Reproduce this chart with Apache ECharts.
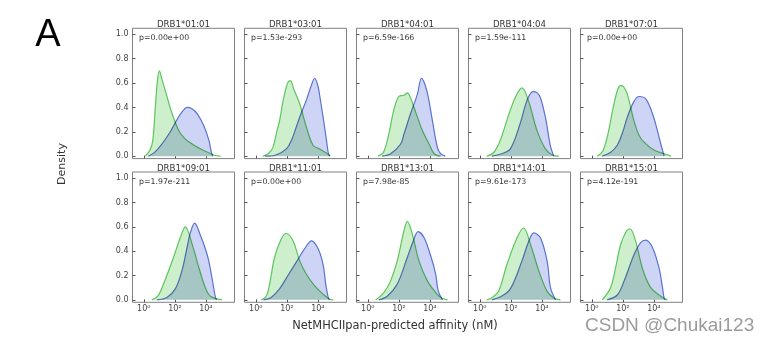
<!DOCTYPE html>
<html>
<head>
<meta charset="utf-8">
<script src="https://cdn.jsdelivr.net/npm/echarts@6/dist/echarts.min.js"></script>
<style>
html,body{margin:0;padding:0;background:#fff;}
#wrap{position:relative;width:767px;height:343px;background:#fff;overflow:hidden;}
#base,#over{position:absolute;left:0;top:0;width:767px;height:343px;}
#over{mix-blend-mode:multiply;}
</style>
</head>
<body>
<div id="wrap"><div id="base"></div><div id="over"></div></div>
<script>
// ---- data ----
const alleles = ['DRB1*01:01','DRB1*03:01','DRB1*04:01','DRB1*04:04','DRB1*07:01',
                 'DRB1*09:01','DRB1*11:01','DRB1*13:01','DRB1*14:01','DRB1*15:01'];
const pValues = ['p=0.00e+00','p=1.53e-293','p=6.59e-166','p=1.59e-111','p=0.00e+00',
                 'p=1.97e-211','p=0.00e+00','p=7.98e-85','p=9.61e-173','p=4.12e-191'];
// x ticks: exponents of 10 (affinity in nM, log10 scale)
const xTickExponents = [0, 2, 4];
const yTickValues = [0, 0.2, 0.4, 0.6, 0.8, 1.0];
// density curves: [log10(affinity nM), density]
const greenDensity = [
  [[0.1,0],[0.4,0.05],[0.58,0.13],[0.73,0.38],[0.88,0.62],[1.01,0.70],[1.15,0.64],[1.38,0.54],[1.82,0.35],[2.25,0.21],[2.6,0.15],[3.0,0.11],[3.5,0.07],[3.9,0.045],[4.5,0.01],[4.95,0]],
  [[0.45,0],[0.8,0.02],[1.1,0.07],[1.35,0.2],[1.53,0.29],[1.8,0.48],[2.05,0.6],[2.22,0.62],[2.45,0.55],[2.83,0.43],[3.26,0.24],[3.69,0.09],[4.1,0.06],[4.5,0.03],[4.8,0]],
  [[0.65,0],[1.0,0.03],[1.3,0.15],[1.68,0.38],[2.0,0.49],[2.33,0.5],[2.55,0.52],[2.75,0.48],[2.98,0.4],[3.52,0.21],[3.95,0.1],[4.28,0.02],[4.7,0]],
  [[0.45,0],[0.9,0.03],[1.32,0.13],[1.97,0.38],[2.4,0.51],[2.72,0.56],[3.15,0.45],[3.69,0.21],[4.23,0.06],[4.67,0.01],[5.1,0]],
  [[0.35,0],[0.7,0.04],[1.0,0.16],[1.43,0.43],[1.7,0.56],[1.86,0.58],[2.05,0.57],[2.29,0.51],[2.72,0.29],[3.05,0.17],[3.37,0.115],[4.0,0.05],[4.67,0.02],[5.1,0]],
  [[0.52,0],[0.9,0.03],[1.27,0.13],[1.92,0.35],[2.35,0.51],[2.68,0.6],[3.11,0.46],[3.54,0.27],[3.97,0.1],[4.3,0.03],[5.05,0]],
  [[0.35,0],[0.67,0.03],[0.89,0.13],[1.21,0.35],[1.64,0.5],[1.97,0.545],[2.4,0.485],[2.83,0.32],[3.26,0.21],[3.8,0.115],[4.34,0.047],[4.77,0.005],[5.0,0]],
  [[0.5,0],[1.04,0.06],[1.47,0.156],[1.9,0.32],[2.33,0.567],[2.55,0.644],[2.87,0.54],[3.3,0.32],[3.84,0.156],[4.38,0.06],[4.7,0.02],[5.14,0]],
  [[0.45,0],[0.8,0.02],[1.21,0.07],[1.75,0.29],[2.4,0.51],[2.83,0.59],[3.26,0.46],[3.8,0.24],[4.34,0.07],[4.77,0.015],[5.2,0]],
  [[0.67,0],[1.21,0.1],[1.53,0.26],[1.86,0.455],[2.24,0.565],[2.46,0.584],[2.83,0.48],[3.26,0.26],[3.8,0.1],[4.45,0.03],[4.88,0]]
];
const blueDensity = [
  [[0.3,0],[0.73,0.035],[1.17,0.1],[1.71,0.2],[2.14,0.3],[2.5,0.37],[2.79,0.4],[3.1,0.39],[3.44,0.35],[3.87,0.25],[4.2,0.13],[4.35,0.035],[4.45,0]],
  [[0.6,0],[1.3,0.01],[1.97,0.06],[2.3,0.13],[2.61,0.24],[2.95,0.36],[3.26,0.46],[3.55,0.57],[3.8,0.64],[4.0,0.58],[4.13,0.49],[4.34,0.32],[4.56,0.13],[4.67,0.03],[4.77,0]],
  [[0.93,0],[1.47,0.02],[2.12,0.1],[2.33,0.18],[2.76,0.35],[3.2,0.51],[3.46,0.64],[3.8,0.54],[4.17,0.29],[4.49,0.07],[4.7,0.02],[5.0,0]],
  [[0.78,0],[1.4,0.02],[1.97,0.06],[2.61,0.27],[3.05,0.46],[3.43,0.53],[3.7,0.52],[3.91,0.48],[4.23,0.32],[4.56,0.08],[4.77,0]],
  [[0.67,0],[1.2,0.03],[1.64,0.09],[2.0,0.2],[2.29,0.32],[2.72,0.45],[3.05,0.49],[3.48,0.47],[3.91,0.35],[4.23,0.21],[4.45,0.1],[4.67,0]],
  [[0.84,0],[1.49,0.02],[2.03,0.09],[2.46,0.24],[2.79,0.43],[3.0,0.55],[3.28,0.63],[3.65,0.53],[3.97,0.42],[4.19,0.32],[4.41,0.17],[4.62,0.02],[4.7,0]],
  [[0.5,0],[0.99,0.02],[1.53,0.09],[2.07,0.2],[2.61,0.31],[3.15,0.42],[3.59,0.485],[4.02,0.42],[4.34,0.29],[4.51,0.13],[4.67,0.02],[4.75,0]],
  [[0.71,0],[1.25,0.03],[1.9,0.13],[2.55,0.35],[2.94,0.485],[3.24,0.56],[3.63,0.51],[4.06,0.36],[4.38,0.21],[4.54,0.074],[4.82,0]],
  [[0.78,0],[1.4,0.03],[1.97,0.09],[2.72,0.32],[3.15,0.48],[3.48,0.55],[3.91,0.51],[4.34,0.32],[4.56,0.1],[4.88,0]],
  [[0.99,0],[1.64,0.04],[2.07,0.15],[2.72,0.37],[3.15,0.47],[3.48,0.49],[3.91,0.43],[4.34,0.26],[4.56,0.1],[4.67,0.01],[4.75,0]]
];

// ---- layout ----
const colLefts = [132.5, 244.5, 356.5, 468.5, 580.5];
const rowTops = [28.3, 172];
const panelW = 102, panelH = 130.3;
const X_MIN = -0.73, X_MAX = 5.85, Y_MIN = -0.02, Y_MAX = 1.05;
const FONT = 'DejaVu Sans';
const SUP = {0:'\u2070',1:'\u00b9',2:'\u00b2',3:'\u00b3',4:'\u2074',5:'\u2075'};

function build(curves, lineColor, fillColor, decor) {
  const grid = [], xAxis = [], yAxis = [], series = [], graphic = [];
  for (let i = 0; i < 10; i++) {
    const r = Math.floor(i / 5), c = i % 5;
    grid.push({
      left: colLefts[c], top: rowTops[r], width: panelW, height: panelH,
      show: decor, borderColor: '#808080', borderWidth: 1, backgroundColor: 'transparent',
      containLabel: false, outerBoundsMode: 'none'
    });
    xAxis.push({
      type: 'value', gridIndex: i, min: X_MIN, max: X_MAX, position: 'bottom',
      axisLine: {show: false, onZero: false}, splitLine: {show: false},
      axisTick: {show: decor, inside: true, length: 3, customValues: xTickExponents, lineStyle: {color: '#555', width: 1}},
      axisLabel: {show: decor && r === 1, customValues: xTickExponents, margin: 3,
        formatter: v => '10' + SUP[Math.round(v)], color: '#444', fontSize: 8, fontFamily: FONT}
    });
    yAxis.push({
      type: 'value', gridIndex: i, min: Y_MIN, max: Y_MAX, position: 'left',
      axisLine: {show: false, onZero: false}, splitLine: {show: false},
      axisTick: {show: decor, inside: true, length: 3, customValues: yTickValues, lineStyle: {color: '#555', width: 1}},
      axisLabel: {show: decor && c === 0, customValues: yTickValues, margin: 4,
        formatter: v => v.toFixed(1), color: '#444', fontSize: 8, fontFamily: FONT}
    });
    series.push({
      type: 'line', xAxisIndex: i, yAxisIndex: i, data: curves[i],
      smooth: 0.35, showSymbol: false, symbol: 'none', silent: true,
      lineStyle: {color: lineColor, width: 1.2},
      areaStyle: {color: fillColor, opacity: 1}
    });
    if (decor) {
      const cx = colLefts[c] + panelW / 2;
      graphic.push({type: 'text', x: cx, y: rowTops[r] - 3.5,
        style: {text: alleles[i], fill: '#333', fontSize: 8.6, fontFamily: FONT, align: 'center', verticalAlign: 'middle', textAlign: 'center', textVerticalAlign: 'middle'}});
      graphic.push({type: 'text', x: colLefts[c] + 6.5, y: rowTops[r] + 9.8,
        style: {text: pValues[i], fill: '#333', fontSize: 7.8, fontFamily: FONT, align: 'left', verticalAlign: 'middle', textAlign: 'left', textVerticalAlign: 'middle'}});
    }
  }
  if (decor) {
    graphic.push({type: 'text', x: 48, y: 36,
      style: {text: 'A', fill: '#000', fontSize: 38, fontFamily: 'Liberation Sans', align: 'center', verticalAlign: 'middle', textAlign: 'center', textVerticalAlign: 'middle'}});
    graphic.push({type: 'text', x: 62, y: 164, rotation: Math.PI / 2,
      style: {text: 'Density', fill: '#333', fontSize: 11, fontFamily: FONT, align: 'center', verticalAlign: 'middle', textAlign: 'center', textVerticalAlign: 'middle'}});
    graphic.push({type: 'text', x: 395, y: 326,
      style: {text: 'NetMHCIIpan-predicted affinity (nM)', fill: '#333', fontSize: 11.4, fontFamily: FONT, align: 'center', verticalAlign: 'middle', textAlign: 'center', textVerticalAlign: 'middle'}});
    graphic.push({type: 'text', x: 585, y: 326,
      style: {text: 'CSDN @Chukai123', fill: '#9c9c9c', fontSize: 19, fontFamily: 'Liberation Sans', align: 'left', verticalAlign: 'middle', textAlign: 'left', textVerticalAlign: 'middle'}});
  }
  return {
    animation: false,
    backgroundColor: decor ? '#ffffff' : 'transparent',
    grid, xAxis, yAxis, series, graphic
  };
}

const base = echarts.init(document.getElementById('base'), null, {renderer: 'canvas'});
base.setOption(build(greenDensity, '#5cc65c', '#cdefcb', true));
const over = echarts.init(document.getElementById('over'), null, {renderer: 'canvas'});
over.setOption(build(blueDensity, '#5a74cf', '#cdd4f5', false));
</script>
</body>
</html>
